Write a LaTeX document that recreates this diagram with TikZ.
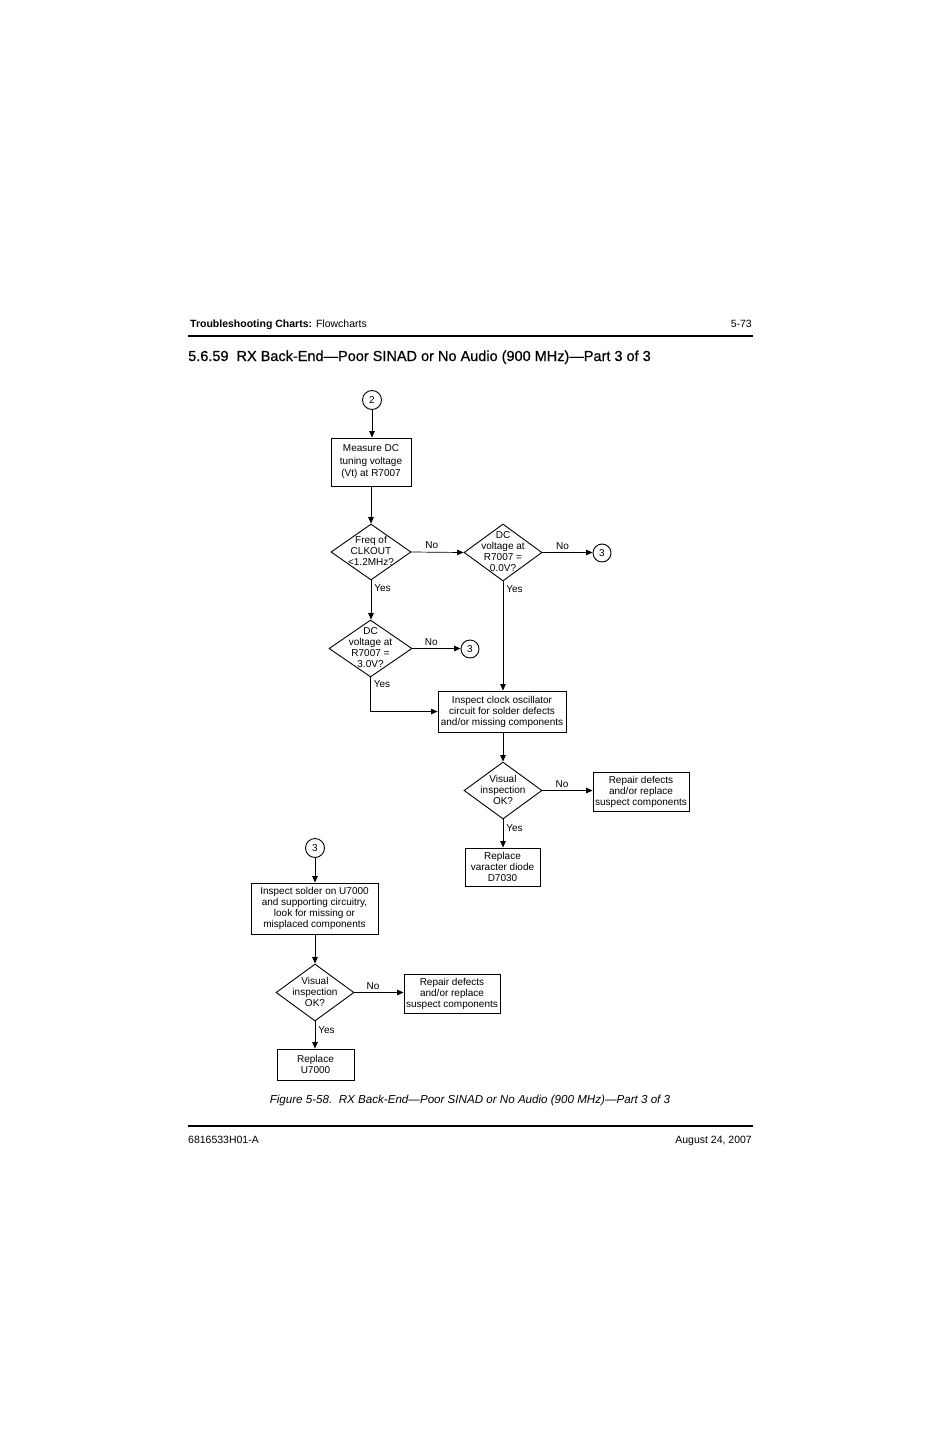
\documentclass[tikz,border=0pt]{standalone}
\usepackage{fontspec}
\setmainfont{Liberation Sans}
\newfontfamily\ttlface[FakeBold=0.6]{Liberation Sans}
\usetikzlibrary{shapes.geometric,arrows.meta}
\newcommand\fcfont{\fontsize{10}{11}\selectfont}
\newcommand\fcfontb{\fontsize{10}{12.5}\selectfont}
\newcommand\hdfont{\fontsize{10.5}{12}\selectfont}
\newcommand\ttlfont{\ttlface\fontsize{14.5}{17}\selectfont}
\newcommand\capfont{\fontsize{11.6}{14}\selectfont}
\begin{document}
\begin{tikzpicture}[x=1pt,y=-1pt,
  box/.style={draw,line width=0.9pt,inner sep=0pt,align=center,font=\fcfont},
  dia/.style={draw,diamond,line width=0.9pt,inner sep=0pt},
  dtext/.style={inner sep=0pt,align=center,font=\fcfont},
  conn/.style={draw,circle,line width=0.9pt,inner sep=0pt,minimum size=19pt,font=\fcfont},
  arr/.style={line width=0.7pt,-{Triangle[length=6.5pt,width=5.5pt]}},
  lbl/.style={inner sep=0pt,font=\fcfont},
  plain/.style={inner sep=0pt}
]
\fill[white,use as bounding box] (0,0) rectangle (926,1431);

% header
\node[plain,anchor=base west,font=\hdfont] (hdr) at (190,327) {\textbf{Troubleshooting Charts:} Flowcharts};
\node[plain,anchor=base east,font=\hdfont] (pg) at (752,327) {5-73};
\draw[line width=2pt] (188,336) -- (753,336);
\node[plain,anchor=base west,font=\ttlfont] (title) at (188,361) {5.6.59\hspace{0.556em}RX Back-End—Poor SINAD or No Audio (900 MHz)—Part 3 of 3};

% top flow
\node[conn] (c2) at (372,400) {2};
\node[box,minimum width=80pt,minimum height=48pt,font=\fcfontb] (m1) at (371,462) {Measure DC\\tuning voltage\\(Vt) at R7007};
\node[dia,minimum width=80pt,minimum height=56pt] (d1) at (371,552) {};
\node[dtext] (d1t) at (371,551) {Freq of\\CLKOUT\\<1.2MHz?};
\node[dia,minimum width=78pt,minimum height=57pt] (d2) at (503,552.5) {};
\node[dtext] (d2t) at (503,552) {DC\\voltage at\\R7007 =\\0.0V?};
\node[conn,minimum size=18pt] (c3a) at (602,553) {3};
\node[dia,minimum width=83pt,minimum height=57pt] (d3) at (370.5,648.5) {};
\node[dtext] (d3t) at (370.5,647.5) {DC\\voltage at\\R7007 =\\3.0V?};
\node[conn,minimum size=18pt] (c3b) at (470,649) {3};
\node[box,minimum width=128pt,minimum height=41pt] (b2) at (502,711.5) {Inspect clock oscillator\\circuit for solder defects\\and/or missing components};
\node[dia,minimum width=78pt,minimum height=57pt] (d4) at (503,790.5) {};
\node[dtext] (d4t) at (503,790) {Visual\\inspection\\OK?};
\node[box,minimum width=96pt,minimum height=39pt] (b3) at (641,791.5) {Repair defects\\and/or replace\\suspect components};
\node[box,minimum width=75pt,minimum height=38pt] (b4) at (502.5,867) {Replace\\varacter diode\\D7030};

% bottom flow
\node[conn] (c3c) at (315,848) {3};
\node[box,minimum width=127pt,minimum height=51pt] (b5) at (314.5,908.5) {Inspect solder on U7000\\and supporting circuitry,\\look for missing or\\misplaced components};
\node[dia,minimum width=78pt,minimum height=57pt] (d5) at (315,992.5) {};
\node[dtext] (d5t) at (315,992) {Visual\\inspection\\OK?};
\node[box,minimum width=96pt,minimum height=39pt] (b6) at (452,993.5) {Repair defects\\and/or replace\\suspect components};
\node[box,minimum width=77pt,minimum height=31pt] (b7) at (315.5,1064.5) {Replace\\U7000};

% connectors
\draw[arr] (c2) -- (c2 |- m1.north);
\draw[arr] (m1.south -| d1) -- (d1.north);
\draw[arr] (d1.east) -- node[lbl,above=3pt,pos=0.39]{No} (d2.west);
\draw[arr] (d2.east) -- node[lbl,above=3pt,pos=0.4]{No} (c3a.west |- d2.east);
\draw[arr] (d1.south) -- node[lbl,right=3pt,pos=0.2]{Yes} (d3.north -| d1.south);
\draw[arr] (d3.east) -- node[lbl,above=3pt,pos=0.39]{No} (c3b.west |- d3.east);
\draw[arr] (d2.south) -- node[lbl,right=3pt,pos=0.07]{Yes} (d2.south |- b2.north);
\draw[arr] (d3.south) |- node[lbl,right=3pt,pos=0.1]{Yes} (b2.west);
\draw[arr] (b2.south -| d4) -- (d4.north);
\draw[arr] (d4.east) -- node[lbl,above=3pt,pos=0.39]{No} (b3.west |- d4.east);
\draw[arr] (d4.south) -- node[lbl,right=3pt,pos=0.3]{Yes} (d4.south |- b4.north);
\draw[arr] (c3c) -- (c3c |- b5.north);
\draw[arr] (b5.south -| d5) -- (d5.north);
\draw[arr] (d5.east) -- node[lbl,above=3pt,pos=0.38]{No} (b6.west |- d5.east);
\draw[arr] (d5.south) -- node[lbl,right=3pt,pos=0.32]{Yes} (d5.south |- b7.north);

% caption and footer
\node[plain,anchor=base,font=\capfont\itshape] (cap) at (470,1103) {Figure 5-58.\hspace{0.556em}RX Back-End—Poor SINAD or No Audio (900 MHz)—Part 3 of 3};
\draw[line width=2pt] (188,1126) -- (753,1126);
\node[plain,anchor=base west,font=\hdfont] (docnum) at (188,1143) {6816533H01-A};
\node[plain,anchor=base east,font=\hdfont] (date) at (752,1143) {August 24, 2007};
\end{tikzpicture}
\end{document}
